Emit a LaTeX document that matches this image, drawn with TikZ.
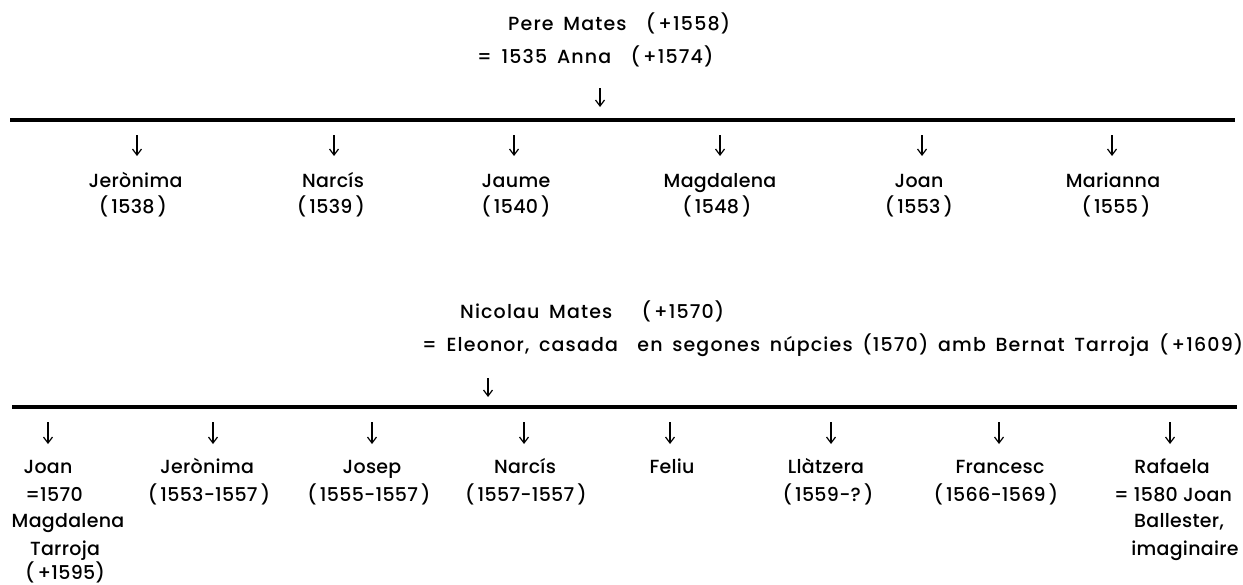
\documentclass[tikz,border=0pt]{standalone}
\usepackage{fontspec}
\setmainfont{Poppins Medium}[LetterSpace=1.5]
\newfontfamily\headfont{Poppins Medium}[LetterSpace=6,WordSpace=1.6]
\usetikzlibrary{arrows.meta}
\begin{document}
\begin{tikzpicture}[x=1pt,y=-1pt,
  lab/.style={anchor=base,inner sep=0pt,font=\fontsize{19}{22}\selectfont},
  labw/.style={anchor=base west,inner sep=0pt,font=\fontsize{19}{22}\headfont},
  bar/.style={line width=4.5pt},
  arr/.style={line width=1.2pt,-{Straight Barb[length=6pt,width=9pt,line width=1.2pt]}}]
\useasboundingbox[fill=white] (0,0) rectangle (1243,584);
% ---- family 1
\node[labw] (p1) at (508,30) {Pere Mates\ \ (\,+1558)};
\node[labw] (p2) at (477,63) {=\ 1535 Anna\ \ (\,+1574)};
\coordinate (pa1) at (600,88); \coordinate (pa2) at (600,107);
\draw[arr] (pa1) -- (pa2);
\coordinate (b1l) at (10,120); \coordinate (b1r) at (1235,120);
\draw[bar] (b1l) -- (b1r);
\foreach \n/\x in {c1/137,c2/334,c3/514,c4/720,c5/922,c6/1112}{
  \coordinate (\n s) at (\x,135); \coordinate (\n e) at (\x,156);
  \draw[arr] (\n s) -- (\n e);}
\node[lab] (n1) at (135.5,187) {Jerònima};  \node[lab] (y1) at (133,213) {(\,1538\,)};
\node[lab] (n2) at (333,187) {Narcís};      \node[lab] (y2) at (331,213) {(\,1539\,)};
\node[lab] (n3) at (516,187) {Jaume};       \node[lab] (y3) at (516,213) {(\,1540\,)};
\node[lab] (n4) at (720,187) {Magdalena};   \node[lab] (y4) at (717,213) {(\,1548\,)};
\node[lab] (n5) at (919,187) {Joan};        \node[lab] (y5) at (919,213) {(\,1553\,)};
\node[lab] (n6) at (1113,187) {Marianna};   \node[lab] (y6) at (1116,213) {(\,1555\,)};
% ---- family 2
\node[labw] (q1) at (460,318) {Nicolau Mates\ \ \ (\,+1570)};
\node[labw] (q2) at (422,351) {=\ Eleonor, casada\ \ en segones núpcies (1570) amb Bernat Tarroja (\,+1609)};
\coordinate (qa1) at (488,378); \coordinate (qa2) at (488,397);
\draw[arr] (qa1) -- (qa2);
\coordinate (b2l) at (12,407); \coordinate (b2r) at (1237,407);
\draw[bar] (b2l) -- (b2r);
\foreach \n/\x in {d1/48,d2/213,d3/372,d4/524,d5/670,d6/831,d7/999,d8/1170}{
  \coordinate (\n s) at (\x,422); \coordinate (\n e) at (\x,444);
  \draw[arr] (\n s) -- (\n e);}
\node[lab] (m1a) at (48,473) {Joan};
\node[lab] (m1b) at (54,501) {=1570};
\node[lab] (m1c) at (68,527) {Magdalena};
\node[lab] (m1d) at (65,555) {Tarroja};
\node[lab] (m1e) at (65,579) {(\,+1595)};
\node[lab] (m2a) at (207,473) {Jerònima};  \node[lab] (m2b) at (209,501) {(\,1553-1557\,)};
\node[lab] (m3a) at (372,473) {Josep};     \node[lab] (m3b) at (369,501) {(\,1555-1557\,)};
\node[lab] (m4a) at (525,473) {Narcís};    \node[lab] (m4b) at (526,501) {(\,1557-1557\,)};
\node[lab] (m5a) at (672,473) {Feliu};
\node[lab] (m6a) at (826,473) {Llàtzera};  \node[lab] (m6b) at (828,501) {(\,1559-?\,)};
\node[lab] (m7a) at (1000,473) {Francesc}; \node[lab] (m7b) at (996,501) {(\,1566-1569\,)};
\node[lab] (m8a) at (1172,473) {Rafaela};
\node[lab] (m8b) at (1173,501) {=\ 1580 Joan};
\node[lab] (m8c) at (1179,527) {Ballester,};
\node[lab] (m8d) at (1185,555) {imaginaire};
\end{tikzpicture}
\end{document}
